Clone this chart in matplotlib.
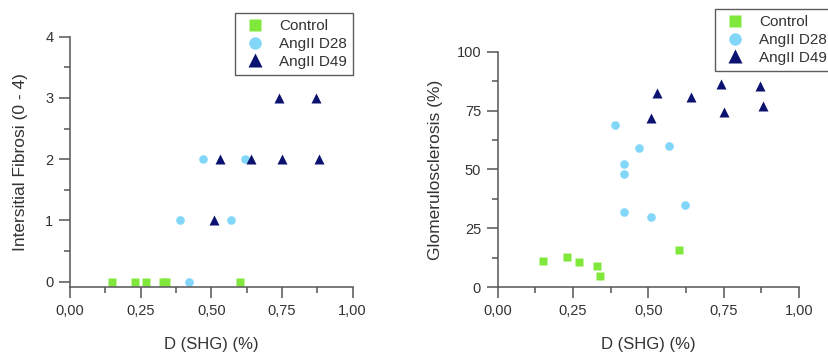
import numpy as np
import matplotlib.pyplot as plt
from matplotlib.ticker import MultipleLocator, FuncFormatter

plt.rcParams['font.family'] = ['Liberation Sans', 'DejaVu Sans']

# ---- data ----
groups = ['Control', 'AngII D28', 'AngII D49']

# left panel: interstitial fibrosis score
fib_ctrl_x = [0.15, 0.23, 0.27, 0.33, 0.34, 0.60]
fib_ctrl_y = [0, 0, 0, 0, 0, 0]
fib_d28_x = [0.42, 0.39, 0.57, 0.47, 0.62]
fib_d28_y = [0, 1, 1, 2, 2]
fib_d49_x = [0.51, 0.53, 0.64, 0.75, 0.88, 0.74, 0.87]
fib_d49_y = [1, 2, 2, 2, 2, 3, 3]

# right panel: glomerulosclerosis (%)
glo_ctrl_x = [0.15, 0.23, 0.27, 0.33, 0.34, 0.60]
glo_ctrl_y = [11.0, 12.7, 10.9, 8.9, 4.8, 16.0]
glo_d28_x = [0.39, 0.47, 0.57, 0.42, 0.42, 0.42, 0.51, 0.62]
glo_d28_y = [68.9, 59.1, 60.1, 52.2, 48.1, 31.8, 29.8, 34.8]
glo_d49_x = [0.51, 0.53, 0.64, 0.74, 0.75, 0.87, 0.88]
glo_d49_y = [71.7, 82.6, 80.8, 86.2, 74.3, 85.6, 77.1]

xticks = [0.0, 0.25, 0.5, 0.75, 1.0]
fib_yticks = [0, 1, 2, 3, 4]
glo_yticks = [0, 25, 50, 75, 100]

c_ctrl = '#80e83a'
c_d28 = '#82d6f8'
c_d49 = '#0c1270'
axcol = '#555555'
txtcol = '#333333'


def comma(v, pos):
    return '{:.2f}'.format(v).replace('.', ',')


def style_axes(ax):
    for s in ['top', 'right']:
        ax.spines[s].set_visible(False)
    for s in ['left', 'bottom']:
        ax.spines[s].set_color(axcol)
        ax.spines[s].set_linewidth(1.1)
    ax.tick_params(which='major', length=8, width=1.1, color=axcol,
                   labelsize=10.5, labelcolor=txtcol, pad=4)
    ax.tick_params(which='minor', length=4, width=1.1, color=axcol)
    ax.set_xlim(0, 1)
    ax.set_xticks(xticks)
    ax.xaxis.set_minor_locator(MultipleLocator(0.125))
    ax.xaxis.set_major_formatter(FuncFormatter(comma))
    ax.set_xlabel('D (SHG) (%)', fontsize=12, color=txtcol, labelpad=14)


def scatter_groups(ax, data):
    (cx, cy), (ax28, ay28), (ax49, ay49) = data
    ax.plot(cx, cy, 's', ms=5.5, color=c_ctrl, mec='none', label=groups[0], clip_on=False)
    ax.plot(ax28, ay28, 'o', ms=6.2, color=c_d28, mec='none', label=groups[1], clip_on=False)
    ax.plot(ax49, ay49, '^', ms=7.2, color=c_d49, mec='none', label=groups[2], clip_on=False)


fig = plt.figure(figsize=(8.29, 3.56), dpi=100)
ax1 = fig.add_axes([0.0844, 0.193, 0.341, 0.704])
ax2 = fig.add_axes([0.6004, 0.193, 0.3635, 0.662])

scatter_groups(ax1, [(fib_ctrl_x, fib_ctrl_y), (fib_d28_x, fib_d28_y), (fib_d49_x, fib_d49_y)])
style_axes(ax1)
ax1.set_ylim(-0.09, 4)
ax1.set_yticks(fib_yticks)
ax1.yaxis.set_minor_locator(MultipleLocator(0.5))
ax1.set_ylabel('Intersitial Fibrosi (0 - 4)', fontsize=12.5, color=txtcol, labelpad=12)

scatter_groups(ax2, [(glo_ctrl_x, glo_ctrl_y), (glo_d28_x, glo_d28_y), (glo_d49_x, glo_d49_y)])
style_axes(ax2)
ax2.set_ylim(0, 100)
ax2.set_yticks(glo_yticks)
ax2.yaxis.set_minor_locator(MultipleLocator(12.5))
ax2.set_ylabel('Glomerulosclerosis (%)', fontsize=12.5, color=txtcol, labelpad=10)

for ax, anchor in [(ax1, (235 / 829, 1 - 13 / 356)), (ax2, (715 / 829, 1 - 9 / 356))]:
    leg = ax.legend(loc='upper left', bbox_to_anchor=anchor, bbox_transform=fig.transFigure,
                    fontsize=11, frameon=True, fancybox=False, borderpad=0.4,
                    handletextpad=0.7, labelspacing=0.25, borderaxespad=0,
                    handlelength=1.8, markerscale=1.45)
    leg.get_frame().set_edgecolor('#333333')
    leg.get_frame().set_linewidth(1.0)
    for t in leg.get_texts():
        t.set_color(txtcol)

fig.savefig('out.png', dpi=100)
